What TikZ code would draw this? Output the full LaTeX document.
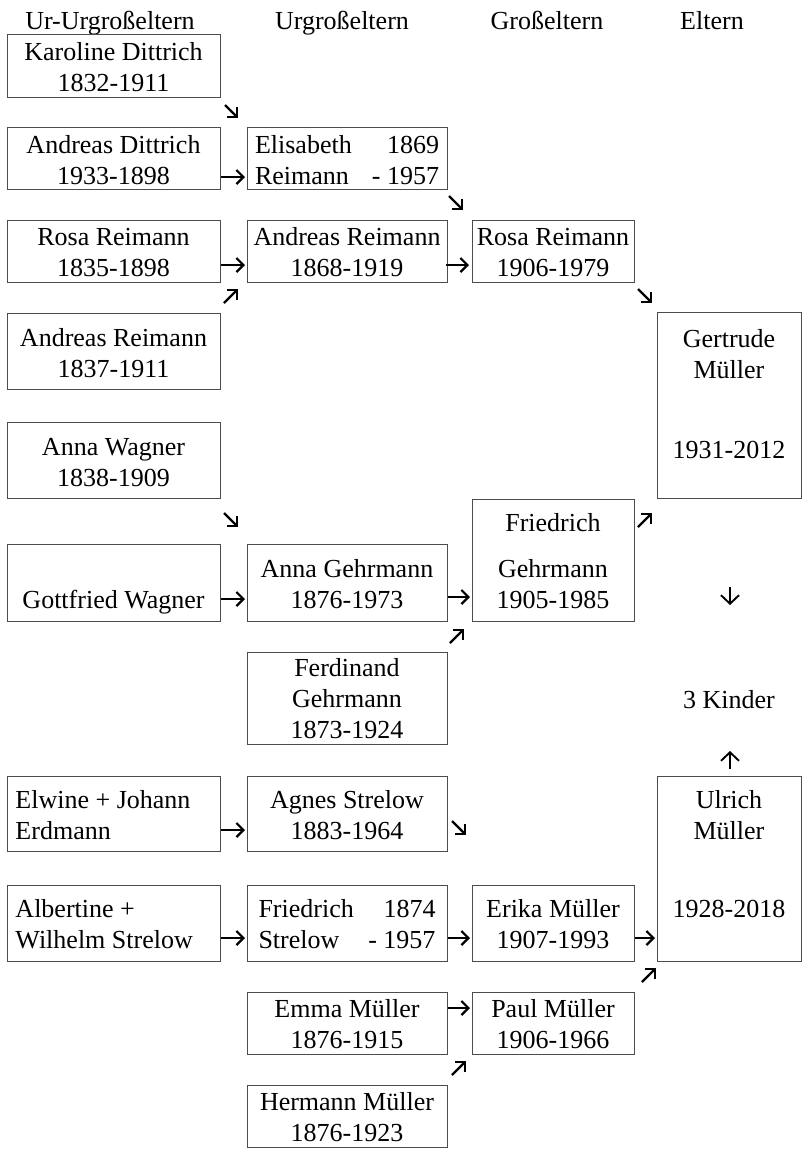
\documentclass[tikz,border=0pt]{standalone}
\usepackage{fontspec}
\setmainfont{Liberation Serif}
\usetikzlibrary{arrows.meta,calc}
\newcommand\hr[1]{\rule{0pt}{#1pt}}
\newcommand\dr[1]{\rule[-#1pt]{0pt}{#1pt}}
\begin{document}
\begin{tikzpicture}[x=1pt,y=-1pt,
  box/.style={draw=black!70,line width=0.9pt,inner sep=0pt,outer sep=0pt,anchor=north west,align=center,font=\fontsize{26}{31}\selectfont},
  c1/.style={box,minimum width=213pt},
  c2/.style={box,minimum width=200pt},
  c3/.style={box,minimum width=162pt},
  c4/.style={box,minimum width=144pt},
  hd/.style={font=\fontsize{26}{31}\selectfont,anchor=base,inner sep=0pt},
  arr/.style={line width=2.2pt,-{Straight Barb[length=7pt,width=14pt]}},
  varr/.style={line width=1.9pt,-{Straight Barb[length=8.5pt,width=18pt]}},
  harr/.style={arr,shorten <=1pt,shorten >=2pt},
]
\useasboundingbox (0,0) rectangle (806,1152);

% headers
\node[hd] (h1) at (110,29) {Ur-Urgroßeltern};
\node[hd] (h2) at (342,29) {Urgroßeltern};
\node[hd] (h3) at (547,29) {Großeltern};
\node[hd] (h4) at (712,29) {Eltern};

% column 1
\node[c1,minimum height=63pt] (kd) at (7,34) {\hr{26}Karoline Dittrich\\1832-1911\dr{6}};
\node[c1,minimum height=62pt] (ad) at (7,127) {\hr{26}Andreas Dittrich\\1933-1898\dr{5}};
\node[c1,minimum height=62pt] (rr1) at (7,220) {\hr{25}Rosa Reimann\\1835-1898\dr{6}};
\node[c1,minimum height=76pt] (ar1) at (7,313) {\hr{33}Andreas Reimann\\1837-1911\dr{12}};
\node[c1,minimum height=76pt] (aw) at (7,422) {\hr{33}Anna Wagner\\1838-1909\dr{12}};
\node[c1,minimum height=77pt] (gw) at (7,544) {\hr{64}Gottfried Wagner\dr{13}};
\node[c1,minimum height=75pt] (ew) at (7,776) {\hr{32}\makebox[196pt][l]{Elwine + Johann}\\\makebox[196pt][l]{Erdmann}\dr{12}};
\node[c1,minimum height=76pt] (al) at (7,885) {\hr{32}\makebox[196pt][l]{Albertine +}\\\makebox[196pt][l]{Wilhelm Strelow}\dr{13}};

% column 2
\node[c2,minimum height=62pt] (er) at (247,127) {\hr{26}\makebox[184pt]{Elisabeth\hfill 1869}\\\makebox[184pt]{Reimann\hfill - 1957}\dr{5}};
\node[c2,minimum height=62pt] (ar2) at (247,220) {\hr{25}Andreas Reimann\\1868-1919\dr{6}};
\node[c2,minimum height=77pt] (ag) at (247,544) {\hr{33}Anna Gehrmann\\1876-1973\dr{13}};
\node[c2,minimum height=92pt] (fe) at (247,652) {\hr{24}Ferdinand\\Gehrmann\\1873-1924\dr{6}};
\node[c2,minimum height=75pt] (as) at (247,776) {\hr{32}Agnes Strelow\\1883-1964\dr{12}};
\node[c2,minimum height=76pt] (fs) at (247,885) {\hr{32}\makebox[177pt]{Friedrich\hfill 1874}\\\makebox[177pt]{Strelow\hfill - 1957}\dr{13}};
\node[c2,minimum height=62pt] (emm) at (247,992) {\hr{25}Emma Müller\\1876-1915\dr{6}};
\node[c2,minimum height=62pt] (hm) at (247,1085) {\hr{25}Hermann Müller\\1876-1923\dr{6}};

% column 3
\node[c3,minimum height=62pt] (rr3) at (472,220) {\hr{25}Rosa Reimann\\1906-1979\dr{6}};
\node[c3,minimum height=122pt] (fg) at (472,499) {\hr{32}Friedrich\\[15pt]Gehrmann\\1905-1985\dr{13}};
\node[c3,minimum height=76pt] (em) at (472,885) {\hr{32}Erika Müller\\1907-1993\dr{13}};
\node[c3,minimum height=62pt] (pm) at (472,992) {\hr{25}Paul Müller\\1906-1966\dr{6}};

% column 4
\node[c4,minimum height=186pt] (gm) at (657,312) {\hr{35}Gertrude\\Müller\\[49pt]1931-2012\dr{40}};
\node[c4,minimum height=185pt] (um) at (657,776) {\hr{32}Ulrich\\Müller\\[47pt]1928-2018\dr{44}};
\node[hd] (ki) at (729,708) {3 Kinder};

% horizontal arrows
\draw[harr] (ad.east |- 0,177) -- (er.west |- 0,177);
\draw[harr] (rr1.east |- 0,265) -- (ar2.west |- 0,265);
\draw[harr,shorten <=-1pt,shorten >=3pt] (ar2.east |- 0,265) -- (rr3.west |- 0,265);
\draw[harr] (gw.east |- 0,599) -- (ag.west |- 0,599);
\draw[harr] (ag.east |- 0,597) -- (fg.west |- 0,597);
\draw[harr] (ew.east |- 0,830) -- (as.west |- 0,830);
\draw[harr] (al.east |- 0,938) -- (fs.west |- 0,938);
\draw[harr] (fs.east |- 0,938) -- (em.west |- 0,938);
\draw[harr] (em.east |- 0,938) -- (um.west |- 0,938);
\draw[harr] (emm.east |- 0,1008) -- (pm.west |- 0,1008);

% diagonal arrows
\draw[arr] ([shift={(5,8)}]kd.south east) -- ++(13,13);
\draw[arr] ([shift={(2,7)}]er.south east) -- ++(14,14);
\draw[arr] ([shift={(4,-10)}]ar1.north east) -- ++(14,-14);
\draw[arr] ([shift={(4,7)}]rr3.south east) -- ++(14,14);
\draw[arr] ([shift={(4,28)}]fg.north east) -- ++(14,-14);
\draw[arr] ([shift={(4,15)}]aw.south east) -- ++(14,14);
\draw[arr] ([shift={(3,-9)}]fe.north east) -- ++(14,-14);
\draw[arr] ([shift={(5,-30)}]as.south east) -- ++(14,14);
\draw[arr] ([shift={(8,-10)}]pm.north east) -- ++(14,-14);
\draw[arr] ([shift={(5,-10)}]hm.north east) -- ++(14,-14);

% vertical arrows
\draw[varr] ([shift={(1,89)}]gm.south) -- ++(0,18);
\draw[varr] ([shift={(1,-7)}]um.north) -- ++(0,-18);
\end{tikzpicture}
\end{document}
